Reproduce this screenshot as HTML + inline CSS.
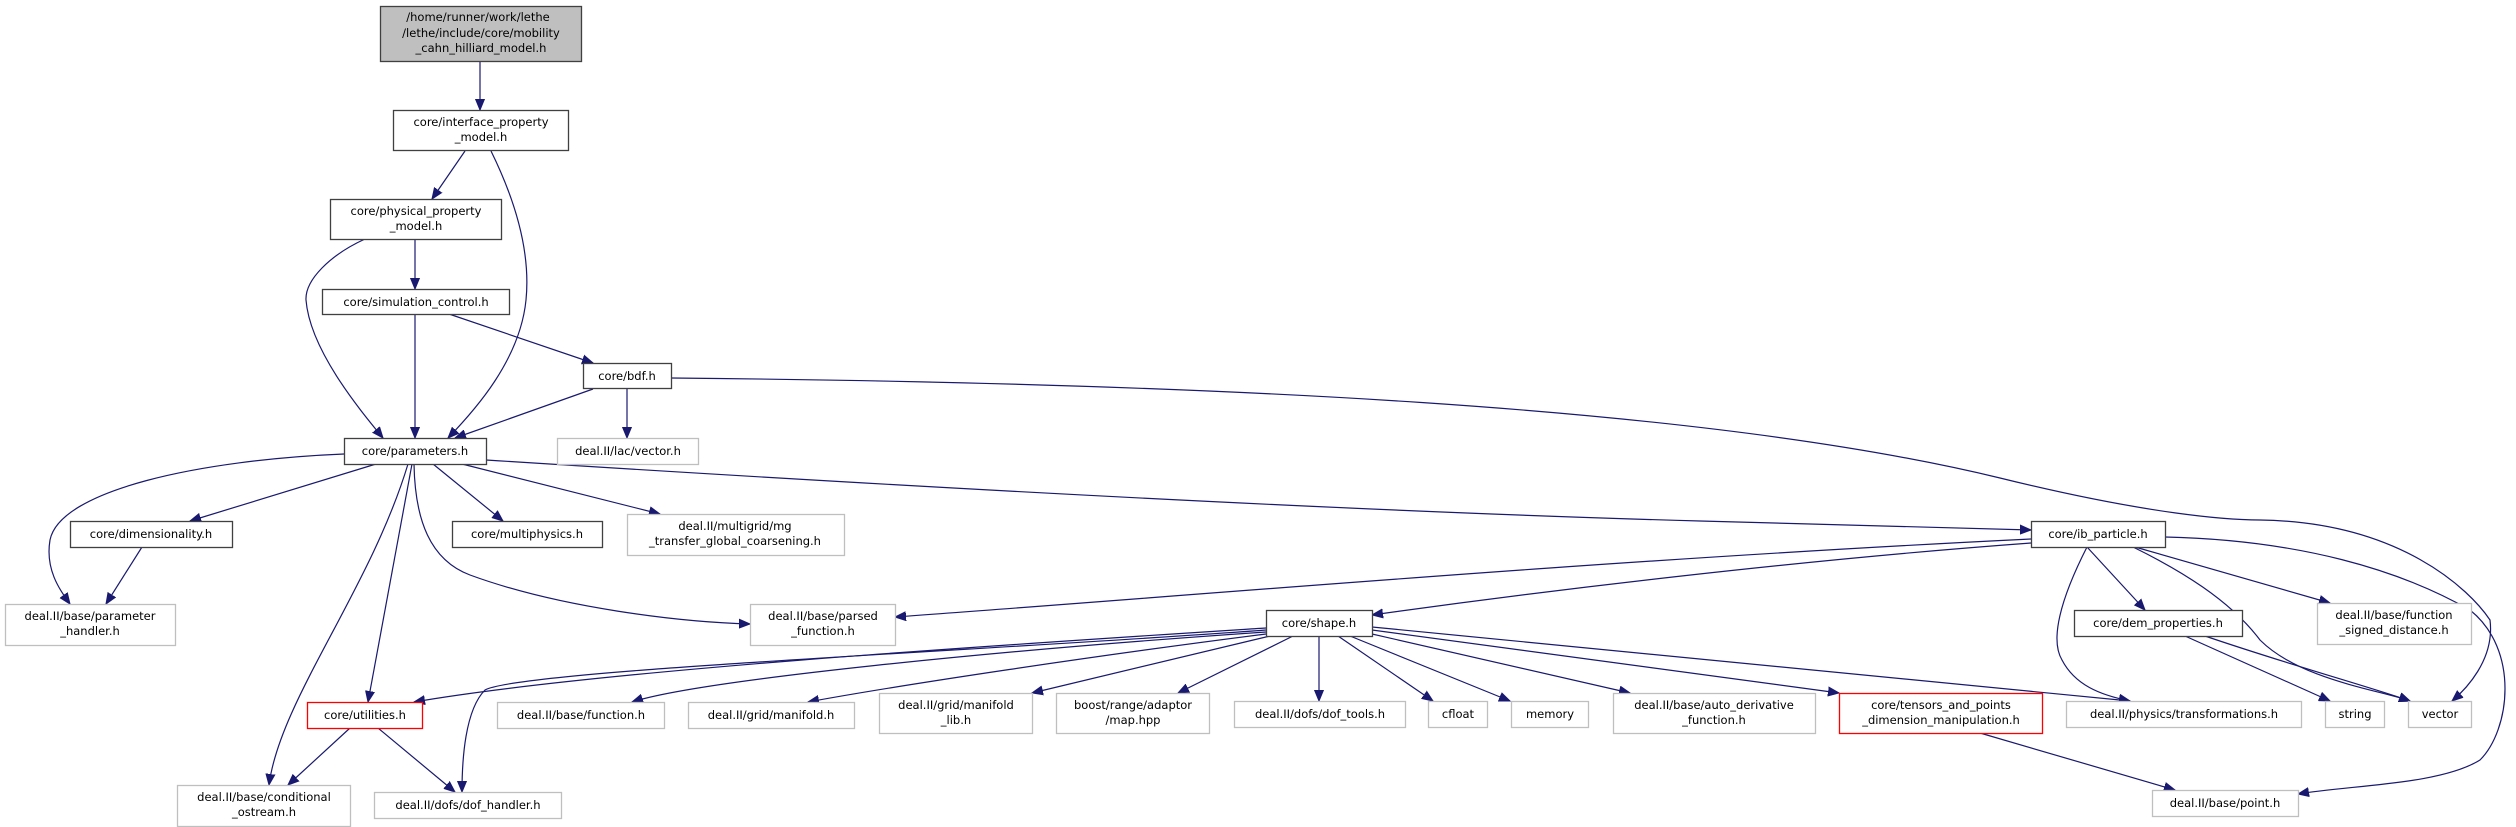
<!DOCTYPE html>
<html><head><meta charset="utf-8"><style>
html,body{margin:0;padding:0;background:#fff;}
svg{display:block;}
text{font-family:"DejaVu Sans","Liberation Sans",sans-serif;font-size:11.5px;fill:#000;text-anchor:middle;}
.c{fill:#fff;stroke:#404040;stroke-width:1.3;}
.g{fill:#fff;stroke:#bfbfbf;stroke-width:1.3;}
.r{fill:#fff;stroke:#ff0000;stroke-width:1.3;}
.e{fill:none;stroke:#191970;stroke-width:1.2;marker-end:url(#a);}
</style></head><body>
<svg width="2516" height="827" viewBox="0 0 2516 827" xmlns="http://www.w3.org/2000/svg">
<defs><marker id="a" markerUnits="userSpaceOnUse" markerWidth="12" markerHeight="10" refX="11" refY="5" orient="auto"><path d="M0,0.5 L11,5 L0,9.5 Z" fill="#191970" stroke="#191970"/></marker></defs>

<!-- edges -->
<path class="e" d="M480,61 L480,110"/>
<path class="e" d="M465,151 L432,199"/>
<path class="e" d="M491,151 C520,210 530,260 526,300 C520,360 475,410 448,438"/>
<path class="e" d="M365,239 C330,255 305,280 306,300 C310,350 360,410 383,438"/>
<path class="e" d="M415,239 L415,289"/>
<path class="e" d="M415,314 L415,438"/>
<path class="e" d="M449,314 L593,363"/>
<path class="e" d="M593,389 L455,438"/>
<path class="e" d="M627,389 L627,438"/>
<path class="e" d="M671,378 C1200,383 1700,405 2000,478 C2150,515 2230,520 2260,520 C2400,522 2470,590 2490,620 C2495,660 2465,690 2452,701"/>
<path class="e" d="M344,454 C200,460 60,490 50,540 C45,570 60,590 70,604"/>
<path class="e" d="M376,464 L190,521"/>
<path class="e" d="M142,547 L106,604"/>
<path class="e" d="M433,464 L503,521"/>
<path class="e" d="M462,464 L660,514"/>
<path class="e" d="M486,460 C800,480 1300,510 1700,521 C1850,525 1950,527 2031,530"/>
<path class="e" d="M412,464 L368,702"/>
<path class="e" d="M408,464 C370,590 280,700 269,785"/>
<path class="e" d="M414,464 C415,520 430,560 470,575 C560,608 680,622 750,624"/>
<path class="e" d="M350,728 L288,785"/>
<path class="e" d="M378,728 L455,792"/>
<path class="e" d="M2031,539 C1600,560 1200,595 895,617"/>
<path class="e" d="M2031,543 C1800,560 1550,590 1372,615"/>
<path class="e" d="M2087,547 L2145,610"/>
<path class="e" d="M2087,547 C2060,600 2050,640 2062,660 C2075,685 2100,695 2130,701"/>
<path class="e" d="M2133,547 C2180,570 2230,600 2260,640 C2300,680 2380,690 2410,701"/>
<path class="e" d="M2135,547 L2330,603"/>
<path class="e" d="M2165,537 C2300,540 2400,570 2470,610 C2520,650 2510,730 2480,760 C2440,785 2350,785 2298,794"/>
<path class="e" d="M2185,636 L2330,701"/>
<path class="e" d="M2205,636 C2290,665 2380,690 2410,701"/>
<!-- shape.h edges -->
<path class="e" d="M1266,628 C1000,645 600,670 414,702"/>
<path class="e" d="M1266,630 C1000,650 520,670 485,690 C465,710 462,760 462,792"/>
<path class="e" d="M1266,632 C1000,650 700,680 632,702"/>
<path class="e" d="M1266,634 C1100,655 900,685 808,702"/>
<path class="e" d="M1270,636 L1032,693"/>
<path class="e" d="M1293,636 L1178,693"/>
<path class="e" d="M1319,636 L1319,701"/>
<path class="e" d="M1338,636 L1433,701"/>
<path class="e" d="M1350,636 L1510,701"/>
<path class="e" d="M1372,634 L1630,693"/>
<path class="e" d="M1372,630 L1839,693"/>
<path class="e" d="M1372,627 C1700,660 2000,690 2130,701"/>
<path class="e" d="M1980,733 L2175,790"/>

<!-- nodes -->
<rect x="380.5" y="6.5" width="201" height="55" fill="#bfbfbf" stroke="#404040" stroke-width="1.3"/>
<text x="478" y="21">/home/runner/work/lethe</text>
<text x="481" y="37">/lethe/include/core/mobility</text>
<text x="481" y="52">_cahn_hilliard_model.h</text>

<rect class="c" x="393.5" y="110.5" width="175" height="40"/>
<text x="481" y="126">core/interface_property</text><text x="481" y="141">_model.h</text>

<rect class="c" x="330.5" y="199.5" width="171" height="40"/>
<text x="416" y="215">core/physical_property</text><text x="416" y="230">_model.h</text>

<rect class="c" x="322.5" y="289.5" width="187" height="25"/>
<text x="416" y="306">core/simulation_control.h</text>

<rect class="c" x="583.5" y="363.5" width="88" height="25"/>
<text x="627" y="380">core/bdf.h</text>

<rect class="c" x="344.5" y="438.5" width="142" height="26"/>
<text x="415" y="455">core/parameters.h</text>

<rect class="g" x="557.5" y="438.5" width="141" height="26"/>
<text x="628" y="455">deal.II/lac/vector.h</text>

<rect class="c" x="70.5" y="521.5" width="162" height="26"/>
<text x="151" y="538">core/dimensionality.h</text>

<rect class="c" x="452.5" y="521.5" width="150" height="26"/>
<text x="527" y="538">core/multiphysics.h</text>

<rect class="g" x="627.5" y="514.5" width="217" height="41"/>
<text x="735" y="530">deal.II/multigrid/mg</text><text x="735" y="545">_transfer_global_coarsening.h</text>

<rect class="c" x="2031.5" y="521.5" width="134" height="26"/>
<text x="2098" y="538">core/ib_particle.h</text>

<rect class="g" x="5.5" y="604.5" width="170" height="41"/>
<text x="90" y="620">deal.II/base/parameter</text><text x="90" y="635">_handler.h</text>

<rect class="g" x="750.5" y="604.5" width="145" height="41"/>
<text x="823" y="620">deal.II/base/parsed</text><text x="823" y="635">_function.h</text>

<rect class="c" x="1266.5" y="610.5" width="106" height="26"/>
<text x="1319" y="627">core/shape.h</text>

<rect class="c" x="2074.5" y="610.5" width="168" height="26"/>
<text x="2158" y="627">core/dem_properties.h</text>

<rect class="g" x="2317.5" y="603.5" width="154" height="41"/>
<text x="2394" y="619">deal.II/base/function</text><text x="2394" y="634">_signed_distance.h</text>

<rect class="r" x="307.5" y="702.5" width="115" height="26"/>
<text x="365" y="719">core/utilities.h</text>

<rect class="g" x="497.5" y="702.5" width="167" height="26"/>
<text x="581" y="719">deal.II/base/function.h</text>

<rect class="g" x="688.5" y="702.5" width="166" height="26"/>
<text x="771" y="719">deal.II/grid/manifold.h</text>

<rect class="g" x="879.5" y="693.5" width="153" height="40"/>
<text x="956" y="709">deal.II/grid/manifold</text><text x="956" y="724">_lib.h</text>

<rect class="g" x="1056.5" y="693.5" width="153" height="40"/>
<text x="1133" y="709">boost/range/adaptor</text><text x="1133" y="724">/map.hpp</text>

<rect class="g" x="1234.5" y="701.5" width="171" height="26"/>
<text x="1320" y="718">deal.II/dofs/dof_tools.h</text>

<rect class="g" x="1428.5" y="701.5" width="59" height="26"/>
<text x="1458" y="718">cfloat</text>

<rect class="g" x="1511.5" y="701.5" width="77" height="26"/>
<text x="1550" y="718">memory</text>

<rect class="g" x="1613.5" y="693.5" width="202" height="40"/>
<text x="1714" y="709">deal.II/base/auto_derivative</text><text x="1714" y="724">_function.h</text>

<rect class="r" x="1839.5" y="693.5" width="203" height="40"/>
<text x="1941" y="709">core/tensors_and_points</text><text x="1941" y="724">_dimension_manipulation.h</text>

<rect class="g" x="2066.5" y="701.5" width="235" height="26"/>
<text x="2184" y="718">deal.II/physics/transformations.h</text>

<rect class="g" x="2325.5" y="701.5" width="59" height="26"/>
<text x="2355" y="718">string</text>

<rect class="g" x="2408.5" y="701.5" width="63" height="26"/>
<text x="2440" y="718">vector</text>

<rect class="g" x="177.5" y="785.5" width="173" height="41"/>
<text x="264" y="801">deal.II/base/conditional</text><text x="264" y="816">_ostream.h</text>

<rect class="g" x="374.5" y="792.5" width="187" height="26"/>
<text x="468" y="809">deal.II/dofs/dof_handler.h</text>

<rect class="g" x="2152.5" y="790.5" width="146" height="26"/>
<text x="2225" y="807">deal.II/base/point.h</text>
</svg>
</body></html>
